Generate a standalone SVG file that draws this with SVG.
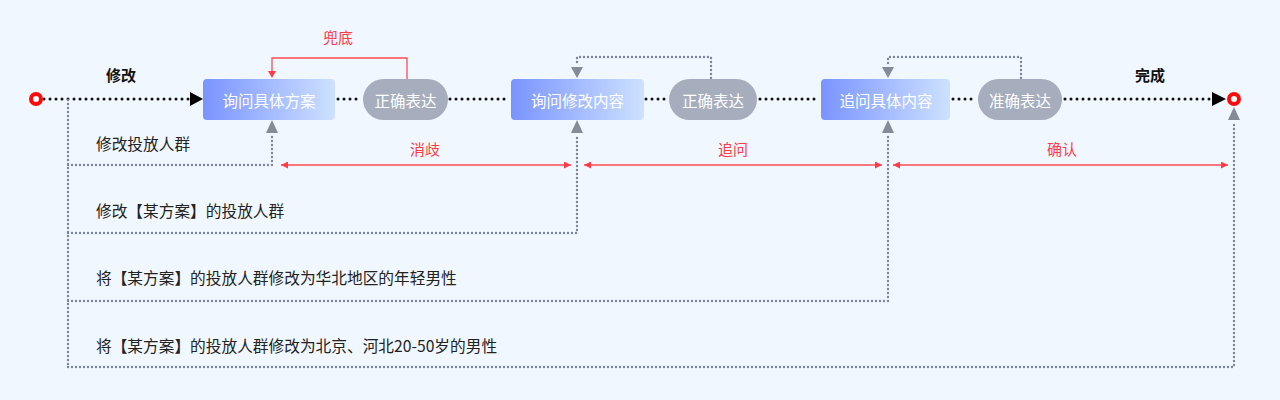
<svg xmlns="http://www.w3.org/2000/svg" width="1280" height="400" viewBox="0 0 1280 400">
<defs>
<linearGradient id="ng" x1="0" y1="0" x2="1" y2="0">
<stop offset="0" stop-color="#7A94FF"/>
<stop offset="1" stop-color="#CDE1FF"/>
</linearGradient>
<marker id="ra" viewBox="0 0 10 10" refX="10" refY="5" markerWidth="7" markerHeight="7" markerUnits="userSpaceOnUse" orient="auto-start-reverse">
<path d="M0,0 L10,5 L0,10 Z" fill="#FF3B45"/>
</marker>
</defs>
<style>
text{font-family:"Noto Sans CJK SC","Noto Sans",sans-serif;}
.nt{fill:#FFFFFF;font-size:15.5px;text-anchor:middle;dominant-baseline:central;}
.lb{fill:#222222;font-size:15.7px;}
.rl{fill:#FF3B45;font-size:15px;text-anchor:middle;}
.bl{fill:#111111;font-size:15px;font-weight:bold;text-anchor:middle;}
.main{stroke:#111111;stroke-width:3;stroke-dasharray:0 6;stroke-linecap:round;fill:none;}
.gd{stroke:#7E8594;stroke-width:2.4;stroke-dasharray:0 4;stroke-linecap:round;fill:none;}
.red{stroke:#FF4B55;stroke-width:1.3;fill:none;}
.gt{fill:#858B97;}
</style>
<rect width="1280" height="400" fill="#F0F7FF"/>
<g id="connectors">
<path class="main" d="M44,99 H191"/>
<path class="main" d="M338,99 H362"/>
<path class="main" d="M450,99 H510"/>
<path class="main" d="M646,99 H668"/>
<path class="main" d="M760,99 H820"/>
<path class="main" d="M953,99 H977"/>
<path class="main" d="M1065,99 H1212"/>
<path d="M190,92 L203,99 L190,106 Z" fill="#000"/>
<path d="M1212,92 L1226,99 L1212,106 Z" fill="#000"/>
<path class="red" d="M407,79 V58 H272 V72" />
<path d="M268,71 L272,78 L276,71 Z" fill="#FF3B45"/>
<path class="gd" d="M711,78 V57 H577 V66"/>
<path d="M571,67 L577,78 L583,67 Z" class="gt"/>
<path class="gd" d="M1021,78 V57 H888 V66"/>
<path d="M882,67 L888,78 L894,67 Z" class="gt"/>
<path class="gd" d="M68,100 V367"/>
<path class="gd" d="M68,165 H272 V134"/>
<path class="gd" d="M68,233 H577 V134"/>
<path class="gd" d="M68,301 H888 V134"/>
<path class="gd" d="M68,367 H1234 V121"/>
<path d="M266,133 L272,120 L278,133 Z" class="gt"/>
<path d="M571,133 L577,120 L583,133 Z" class="gt"/>
<path d="M882,133 L888,120 L894,133 Z" class="gt"/>
<path d="M1228,120 L1234,107 L1240,120 Z" class="gt"/>
<path class="red" d="M281,165 H571" marker-start="url(#ra)" marker-end="url(#ra)"/>
<path class="red" d="M584,165 H882" marker-start="url(#ra)" marker-end="url(#ra)"/>
<path class="red" d="M893,165 H1228" marker-start="url(#ra)" marker-end="url(#ra)"/>
</g>
<g id="start"><circle cx="36" cy="99" r="5" fill="#FFFFFF" stroke="#FF0A0A" stroke-width="4"/></g>
<g id="end"><circle cx="1234" cy="99" r="5" fill="#FFFFFF" stroke="#FF0A0A" stroke-width="4"/></g>
<g id="n1"><rect x="203" y="79" width="132" height="41" rx="4" fill="url(#ng)"/><text class="nt" x="269" y="99.5">询问具体方案</text></g>
<g id="p1"><rect x="363" y="79" width="85" height="41" rx="20.5" fill="#A6AEBE"/><text class="nt" x="405.5" y="99.5">正确表达</text></g>
<g id="n2"><rect x="511" y="79" width="133" height="41" rx="4" fill="url(#ng)"/><text class="nt" x="577.5" y="99.5">询问修改内容</text></g>
<g id="p2"><rect x="669" y="79" width="88" height="41" rx="20.5" fill="#A6AEBE"/><text class="nt" x="713" y="99.5">正确表达</text></g>
<g id="n3"><rect x="821" y="79" width="129" height="41" rx="4" fill="url(#ng)"/><text class="nt" x="886" y="99.5">追问具体内容</text></g>
<g id="p3"><rect x="978" y="79" width="84" height="41" rx="20.5" fill="#A6AEBE"/><text class="nt" x="1020" y="99.5">准确表达</text></g>
<g id="labels">
<text class="bl" x="121" y="81">修改</text>
<text class="bl" x="1150" y="81">完成</text>
<text class="rl" x="338" y="43">兜底</text>
<text class="rl" x="425" y="155">消歧</text>
<text class="rl" x="733" y="155">追问</text>
<text class="rl" x="1062" y="155">确认</text>
<text class="lb" x="96" y="150">修改投放人群</text>
<text class="lb" x="96" y="217">修改【某方案】的投放人群</text>
<text class="lb" x="96" y="284">将【某方案】的投放人群修改为华北地区的年轻男性</text>
<text class="lb" x="96" y="352">将【某方案】的投放人群修改为北京、河北20-50岁的男性</text>
</g>
</svg>
